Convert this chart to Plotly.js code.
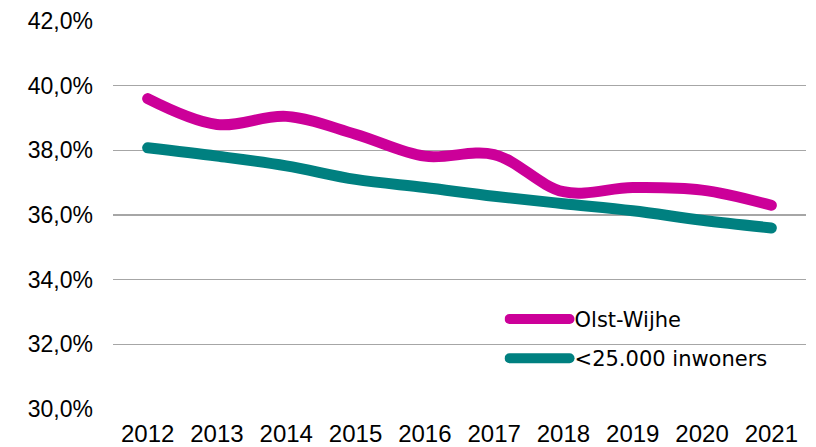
<!DOCTYPE html>
<html>
<head>
<meta charset="utf-8">
<script src="https://cdn.plot.ly/plotly-3.0.1.min.js"></script>
<style>
html,body{margin:0;padding:0;background:#fff;}
#chart{width:816px;height:447px;}
.js-line{stroke-linecap:round;stroke-linejoin:round;}
</style>
</head>
<body>
<div id="chart"></div>
<script>
const years = ['2012','2013','2014','2015','2016','2017','2018','2019','2020','2021'];
const olstWijhe = [39.6, 38.8, 39.05, 38.5, 37.82, 37.87, 36.72, 36.85, 36.77, 36.3];
const kleineGemeenten = [38.08, 37.82, 37.52, 37.1, 36.85, 36.58, 36.35, 36.13, 35.84, 35.6];
const seriesNames = ['Olst-Wijhe', '<25.000 inwoners'];
const yTicks = [30, 32, 34, 36, 38, 40, 42];
const yTickText = yTicks.map(v => v.toFixed(1).replace('.', ',') + '%');

const traces = [
  {x: years, y: olstWijhe, name: seriesNames[0], type: 'scatter', mode: 'lines',
   line: {color: '#CC0099', width: 11, shape: 'spline', smoothing: 1}, legendgroup: 'a', hoverinfo: 'skip'},
  {x: years, y: kleineGemeenten, name: seriesNames[1], type: 'scatter', mode: 'lines',
   line: {color: '#008080', width: 11, shape: 'spline', smoothing: 1}, legendgroup: 'b', hoverinfo: 'skip'}
];

const layout = {
  width: 816, height: 447,
  margin: {l: 113, r: 10, t: 21, b: 38},
  paper_bgcolor: '#fff', plot_bgcolor: '#fff',
  showlegend: true,
  legend: {
    x: 0.565, xanchor: 'left', y: 0.284, yanchor: 'top',
    bgcolor: 'rgba(0,0,0,0)', itemwidth: 60, tracegroupgap: 9,
    font: {family: 'DejaVu Sans', size: 21, color: '#000'},
    traceorder: 'grouped'
  },
  xaxis: {
    type: 'category', range: [-0.5, 9.5],
    showgrid: false, zeroline: false, showline: false,
    ticks: 'outside', ticklen: 3, tickcolor: 'rgba(0,0,0,0)',
    tickfont: {family: 'Liberation Sans Narrow, Arial Narrow, Liberation Sans', size: 24, color: '#000'},
    fixedrange: true
  },
  yaxis: {
    range: [30, 42], tickmode: 'array', tickvals: yTicks, ticktext: yTickText,
    showgrid: true, gridcolor: '#a6a6a6', gridwidth: 1.3,
    zeroline: false, showline: false,
    ticks: '', ticklabelstandoff: 19,
    tickfont: {family: 'Liberation Sans, Arial', size: 23, color: '#000'},
    fixedrange: true
  }
};

Plotly.newPlot('chart', traces, layout, {staticPlot: true, displayModeBar: false});
</script>
</body>
</html>
